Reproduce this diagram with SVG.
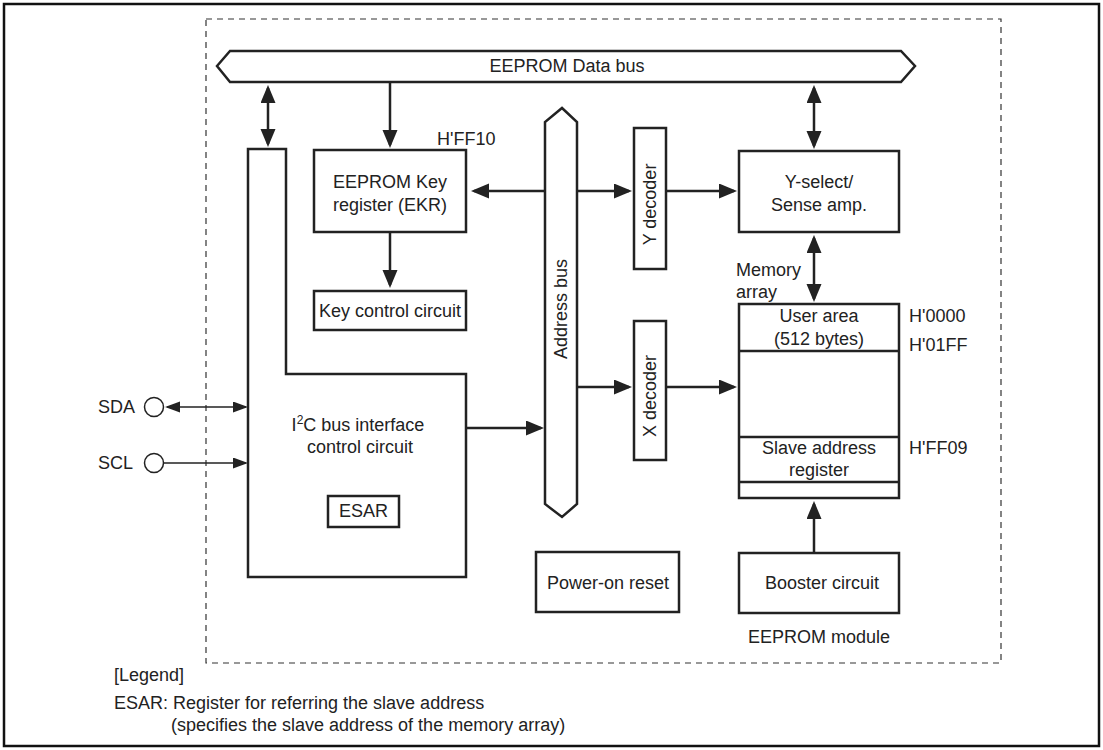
<svg xmlns="http://www.w3.org/2000/svg" width="1103" height="750" viewBox="0 0 1103 750">
<style>
text{font-family:"Liberation Sans",Arial,sans-serif;font-size:18px;fill:#222}
.c{text-anchor:middle}
.b{fill:#fff;stroke:#222;stroke-width:2.5}
.ln{fill:none;stroke:#222;stroke-width:2.5}
.thin{fill:none;stroke:#222;stroke-width:1.3}
</style>
<defs>
<marker id="ah" markerUnits="userSpaceOnUse" markerWidth="20" markerHeight="16" refX="15" refY="7.5" orient="auto-start-reverse"><path d="M0,0 L18,7.5 L0,15 z" fill="#222"/></marker>
<marker id="as" markerUnits="userSpaceOnUse" markerWidth="17" markerHeight="12" refX="13" refY="5.5" orient="auto-start-reverse"><path d="M0,0 L15,5.5 L0,11 z" fill="#222"/></marker>
</defs>
<rect x="4" y="4" width="1095" height="742" fill="#fff" stroke="#111" stroke-width="2.5"/>
<rect x="206" y="19" width="795" height="644" fill="none" stroke="#333" stroke-width="1.2" stroke-dasharray="6,5"/>

<g id="databus"><polygon class="b" points="217,66 230,51 901,51 915,66 901,82 230,82"/><text class="c" x="567" y="72">EEPROM Data bus</text></g>
<g id="addrbus"><polygon class="b" points="562,108 577,122 577,504 562,517 545,504 545,122"/><text class="c" transform="translate(567,309) rotate(-90)">Address bus</text></g>
<g id="i2c"><polygon class="b" points="248,149 286,149 286,374 466,374 466,577 248,577"/>
<text class="c" x="358" y="431">I<tspan font-size="12" dy="-7">2</tspan><tspan dy="7">C bus interface</tspan></text>
<text class="c" x="360" y="453">control circuit</text></g>
<g id="esar"><rect class="b" x="328" y="496" width="71" height="31"/><text class="c" x="363.5" y="517">ESAR</text></g>
<g id="ekr"><rect class="b" x="314" y="150" width="152" height="82"/><text class="c" x="390" y="188">EEPROM Key</text><text class="c" x="390" y="211">register (EKR)</text><text x="437" y="145">H'FF10</text></g>
<g id="keyctl"><rect class="b" x="314" y="291" width="152" height="39"/><text class="c" x="390" y="317">Key control circuit</text></g>
<g id="ydec"><rect class="b" x="634" y="128" width="32" height="141"/><text class="c" transform="translate(656,204.5) rotate(-90)">Y decoder</text></g>
<g id="xdec"><rect class="b" x="634" y="321" width="32" height="139"/><text class="c" transform="translate(656,396) rotate(-90)">X decoder</text></g>
<g id="ysel"><rect class="b" x="739" y="151" width="160" height="81"/><text class="c" x="819" y="188">Y-select/</text><text class="c" x="819" y="211">Sense amp.</text></g>
<g id="memory"><text x="736" y="276">Memory</text><text x="736" y="298">array</text>
<rect class="b" x="739" y="304" width="160" height="194"/>
<line class="ln" x1="739" y1="351" x2="899" y2="351"/><line class="ln" x1="739" y1="437" x2="899" y2="437"/><line class="ln" x1="739" y1="482" x2="899" y2="482"/>
<text class="c" x="819" y="322">User area</text><text class="c" x="819" y="345">(512 bytes)</text>
<text class="c" x="819" y="454">Slave address</text><text class="c" x="819" y="476">register</text>
<text x="909" y="322">H'0000</text><text x="909" y="351">H'01FF</text><text x="909" y="454">H'FF09</text></g>
<g id="booster"><rect class="b" x="739" y="553" width="160" height="60"/><text class="c" x="822" y="589">Booster circuit</text></g>
<g id="por"><rect class="b" x="536" y="552" width="143" height="60"/><text class="c" x="608" y="589">Power-on reset</text></g>
<g id="sda"><text x="98" y="413">SDA</text><circle cx="154" cy="407" r="9.5" fill="#fff" stroke="#222" stroke-width="1.5"/></g>
<g id="scl"><text x="98" y="469">SCL</text><circle cx="154" cy="463" r="9.5" fill="#fff" stroke="#222" stroke-width="1.5"/></g>
<text x="819" y="643" class="c">EEPROM module</text>

<g id="connectors">
<path class="ln" d="M268,88 L268,144" marker-start="url(#ah)" marker-end="url(#ah)"/>
<path class="ln" d="M390,82 L390,145" marker-end="url(#ah)"/>
<path class="ln" d="M545,191 L474,191" marker-end="url(#ah)"/>
<path class="ln" d="M577,191 L629,191" marker-end="url(#ah)"/>
<path class="ln" d="M666,191 L734,191" marker-end="url(#ah)"/>
<path class="ln" d="M814,88 L814,146" marker-start="url(#ah)" marker-end="url(#ah)"/>
<path class="ln" d="M814,238 L814,299" marker-start="url(#ah)" marker-end="url(#ah)"/>
<path class="ln" d="M390,232 L390,285" marker-end="url(#ah)"/>
<path class="ln" d="M466,428 L541,428" marker-end="url(#ah)"/>
<path class="ln" d="M577,387 L629,387" marker-end="url(#ah)"/>
<path class="ln" d="M666,387 L734,387" marker-end="url(#ah)"/>
<path class="ln" d="M814,553 L814,504" marker-end="url(#ah)"/>
<path class="thin" d="M167,407 L246,407" marker-start="url(#as)" marker-end="url(#as)"/>
<path class="thin" d="M164,463 L246,463" marker-end="url(#as)"/>
</g>
<g id="legend">
<text x="114" y="681">[Legend]</text>
<text x="114" y="709">ESAR: Register for referring the slave address</text>
<text x="171" y="731">(specifies the slave address of the memory array)</text>
</g>
</svg>
